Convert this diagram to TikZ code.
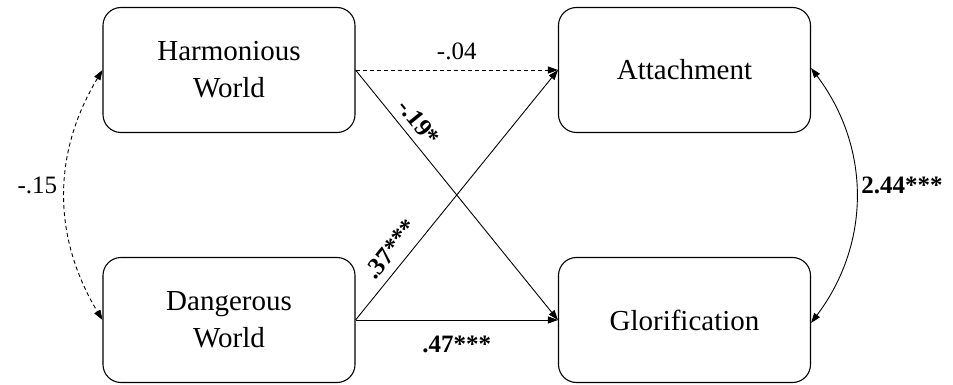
\documentclass[tikz,border=0pt]{standalone}
\usepackage{fontspec}
\setmainfont{Liberation Serif}
\usetikzlibrary{arrows.meta}
\begin{document}
\begin{tikzpicture}[x=1pt,y=-1pt,
  varbox/.style={draw, line width=1.1pt, rounded corners=18pt, minimum width=252pt, minimum height=125pt, align=center, font=\fontsize{29}{37}\selectfont, inner sep=0pt},
  conn/.style={line width=0.9pt, -{Triangle[length=10pt,width=7pt]}},
  dconn/.style={conn, dashed, dash pattern=on 4pt off 3pt},
  lab/.style={font=\fontsize{25}{30}\selectfont},
  blab/.style={font=\fontsize{25}{30}\selectfont\bfseries}]
\useasboundingbox (0,0) rectangle (953,385);
\node[varbox] (hw) at (229,70) {Harmonious\\World};
\node[varbox] (dw) at (229,320) {Dangerous\\World};
\node[varbox] (at) at (684.5,70) {Attachment};
\node[varbox] (gl) at (684.5,320) {Glorification};
\draw[dconn] (hw.east) -- node[lab, above=6pt, pos=0.5] {-.04} (at.west);
\draw[conn] (hw.east) -- node[blab, sloped, above=4pt, pos=0.25] {-.19*} (gl.west);
\draw[conn] (dw.east) -- node[blab, sloped, above=5pt, pos=0.24] {.37***} (at.west);
\draw[conn] (dw.east) -- node[blab, below=12pt, pos=0.5] {.47***} (gl.west);
\draw[dconn, {Triangle[length=10pt,width=7pt]}-{Triangle[length=10pt,width=7pt]}] (hw.west) to[bend right=31] node[lab, left, pos=0.46, xshift=-4pt] {-.15} (dw.west);
\draw[conn, {Triangle[length=10pt,width=7pt]}-{Triangle[length=10pt,width=7pt]}] ([yshift=2pt]at.east) to[bend left=37] node[blab, right, pos=0.46, xshift=2pt] {2.44***} ([yshift=-3pt]gl.east);
\end{tikzpicture}
\end{document}
